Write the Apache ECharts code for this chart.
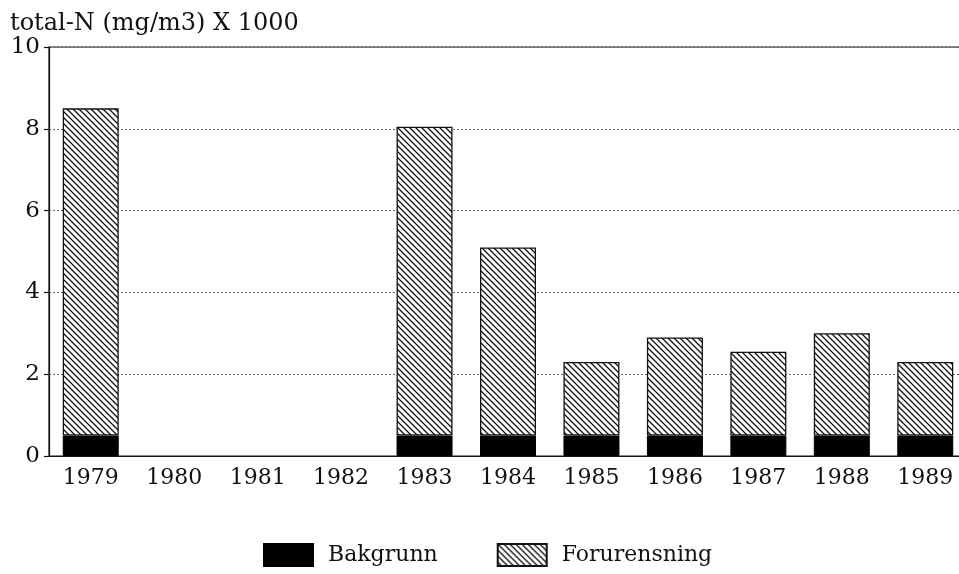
<!DOCTYPE html>
<html>
<head>
<meta charset="utf-8">
<script src="https://cdn.jsdelivr.net/npm/echarts@6/dist/echarts.min.js"></script>
<style>html,body{margin:0;padding:0;background:#fff;}#c{width:959px;height:574px;}</style>
</head>
<body>
<div id="c"></div>
<script>
const years = ['1979','1980','1981','1982','1983','1984','1985','1986','1987','1988','1989'];
const bakgrunn = [0.5, null, null, null, 0.5, 0.5, 0.5, 0.5, 0.5, 0.5, 0.5];
const forurensning = [8.0, null, null, null, 7.55, 4.6, 1.8, 2.4, 2.05, 2.5, 1.8];
const yTicks = [0, 2, 4, 6, 8, 10];
const titleText = 'total-N (mg/m3) X 1000';

function hatch() {
  const s = 6;
  const c = document.createElement('canvas');
  c.width = s; c.height = s;
  const g = c.getContext('2d');
  g.fillStyle = '#fff'; g.fillRect(0, 0, s, s);
  g.strokeStyle = '#111'; g.lineWidth = 1.3;
  g.beginPath();
  g.moveTo(-1, -1); g.lineTo(s + 1, s + 1);
  g.moveTo(-1, s - 1); g.lineTo(1, s + 1);
  g.moveTo(s - 1, -1); g.lineTo(s + 1, 1);
  g.stroke();
  return c;
}
const font = 'DejaVu Serif';
const chart = echarts.init(document.getElementById('c'));
chart.setOption({
  backgroundColor: '#fff',
  animation: false,
  title: {
    text: titleText, left: 10, top: 12, padding: 0,
    textStyle: { fontFamily: font, fontSize: 24, fontWeight: 'normal', color: '#111' }
  },
  grid: { left: 49, top: 47, width: 918, height: 409, outerBoundsMode: 'none', containLabel: false,
    show: true, borderColor: '#111', borderWidth: 1.2, backgroundColor: 'transparent' },
  legend: {
    top: 543, left: 263, padding: 0,
    icon: 'rect',
    itemWidth: 49, itemHeight: 22, itemGap: 59,
    textStyle: { fontFamily: font, fontSize: 22, color: '#111', padding: [0, 0, 0, 10] },
    data: ['Bakgrunn', 'Forurensning']
  },
  xAxis: {
    type: 'category', data: years,
    axisLine: { lineStyle: { color: '#111', width: 1.2 } },
    axisTick: { inside: true, alignWithLabel: true, length: 10, lineStyle: { color: '#111', width: 1.2 } },
    axisLabel: { fontFamily: font, fontSize: 22, color: '#111', margin: 11 },
    splitLine: { show: false }
  },
  yAxis: {
    type: 'value', min: 0, max: 10, interval: 2,
    axisLine: { show: true, lineStyle: { color: '#111', width: 1.2 } },
    axisTick: { show: true, length: 5, lineStyle: { color: '#111', width: 1.2 } },
    axisLabel: { fontFamily: font, fontSize: 23, color: '#111', margin: 9,
      formatter: v => yTicks.includes(v) ? String(v) : '' },
    splitLine: { show: true, lineStyle: { color: '#666', type: [2, 2], width: 1 } }
  },
  series: [
    { name: 'Bakgrunn', type: 'bar', stack: 'n', data: bakgrunn, barWidth: 56,
      itemStyle: { color: '#000', borderColor: '#000', borderWidth: 1 } },
    { name: 'Forurensning', type: 'bar', stack: 'n', data: forurensning, barWidth: 56,
      itemStyle: { color: { image: hatch(), repeat: 'repeat' }, borderColor: '#111', borderWidth: 1.3 } }
  ]
});
</script>
</body>
</html>
